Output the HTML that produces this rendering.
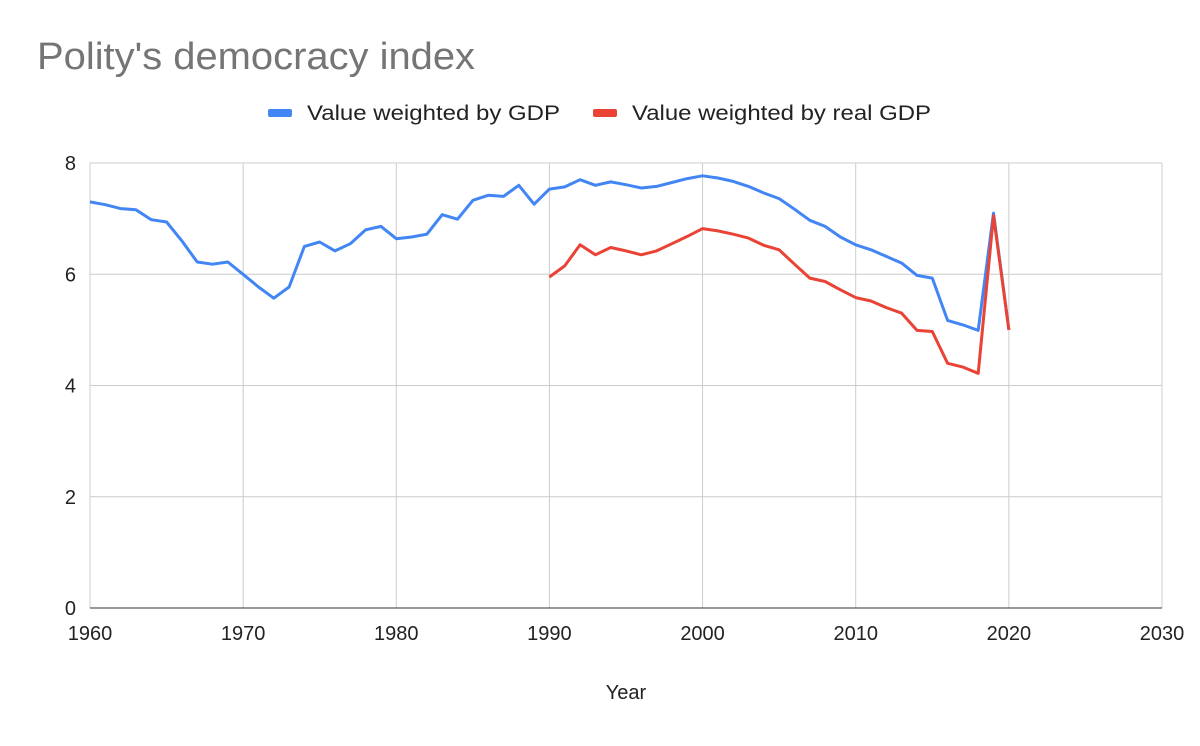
<!DOCTYPE html>
<html><head><meta charset="utf-8"><style>
body{margin:0;background:#fff;}
svg text{font-family:"Liberation Sans",Arial,sans-serif;}
</style></head><body>
<svg id="c" width="1200" height="741" xmlns="http://www.w3.org/2000/svg">
<rect width="1200" height="741" fill="#fff"/>
<text x="37" y="69" font-size="38" fill="#757575" textLength="438" lengthAdjust="spacingAndGlyphs">Polity's democracy index</text>
<rect x="268" y="109" width="24" height="8" rx="2" fill="#4285f4"/>
<text x="307" y="120" font-size="21" fill="#222" textLength="253" lengthAdjust="spacingAndGlyphs">Value weighted by GDP</text>
<rect x="593" y="109" width="24" height="8" rx="2" fill="#ea4335"/>
<text x="632" y="120" font-size="21" fill="#222" textLength="299" lengthAdjust="spacingAndGlyphs">Value weighted by real GDP</text>
<g id="grid"></g>
<text x="626" y="699" font-size="20" fill="#222" text-anchor="middle">Year</text>
</svg>
<script>
var s=document.getElementById('c'),g=document.getElementById('grid'),ns='http://www.w3.org/2000/svg';
function X(y){return 90+(y-1960)*1072/70;}
function Y(v){return 608-v*55.625;}
function el(t,a,p,txt){var e=document.createElementNS(ns,t);for(var k in a)e.setAttribute(k,a[k]);if(txt!==undefined)e.textContent=String(txt);(p||g).appendChild(e);return e;}
for(var i=0;i<=8;i+=2){el('line',{x1:90,x2:1162,y1:Y(i),y2:Y(i),stroke:'#ccc','stroke-width':1});
el('text',{x:76,y:Y(i)+7,'font-size':20,fill:'#222','text-anchor':'end'},null,i);}
for(var y=1960;y<=2030;y+=10){el('line',{x1:X(y),x2:X(y),y1:163,y2:608,stroke:'#ccc','stroke-width':1});
el('text',{x:X(y),y:640,'font-size':20,fill:'#222','text-anchor':'middle'},null,y);}
el('line',{x1:90,x2:1162,y1:608,y2:608,stroke:'#333','stroke-width':1});
var b=[7.3,7.25,7.18,7.16,6.98,6.94,6.6,6.22,6.18,6.22,6.0,5.77,5.57,5.77,6.5,6.58,6.42,6.55,6.8,6.86,6.64,6.67,6.72,7.07,6.99,7.33,7.42,7.4,7.6,7.26,7.53,7.57,7.7,7.6,7.66,7.61,7.55,7.58,7.65,7.72,7.77,7.73,7.67,7.58,7.46,7.36,7.17,6.97,6.86,6.67,6.53,6.44,6.32,6.2,5.98,5.93,5.17,5.09,4.99,7.1,5.0];
var r=[5.95,6.15,6.53,6.35,6.48,6.42,6.35,6.42,6.55,6.68,6.82,6.78,6.72,6.65,6.52,6.44,6.18,5.93,5.87,5.72,5.58,5.52,5.4,5.3,4.99,4.97,4.4,4.33,4.22,7.05,5.0];
function pl(d,s0,c){el('polyline',{points:d.map(function(v,i){return X(s0+i).toFixed(1)+','+Y(v).toFixed(1)}).join(' '),fill:'none',stroke:c,'stroke-width':3,'stroke-linejoin':'round'},s);}
pl(b,1960,'#4285f4');pl(r,1990,'#ea4335');
</script>
</body></html>
